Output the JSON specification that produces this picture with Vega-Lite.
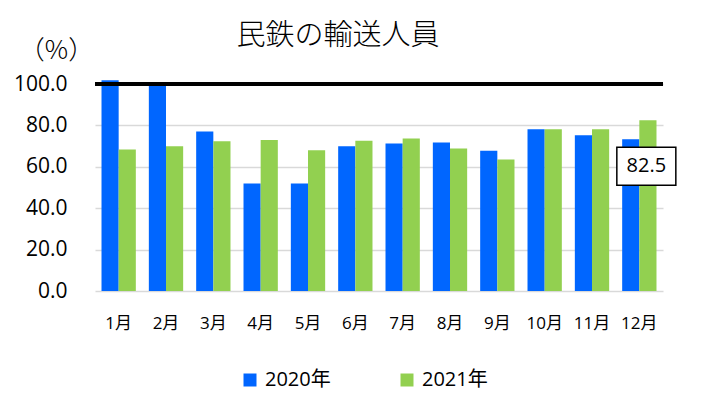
{
  "$schema": "https://vega.github.io/schema/vega-lite/v6.json",
  "width": 568,
  "height": 207,
  "autosize": "none",
  "padding": {"left": 95, "top": 84, "right": 38, "bottom": 112},
  "background": "white",
  "config": {
    "view": {"stroke": null},
    "font": "'Open Sans', 'Noto Sans CJK JP'"
  },
  "title": {
    "text": "民鉄の輸送人員",
    "font": "Noto Sans CJK JP",
    "fontSize": 29,
    "fontWeight": 300,
    "color": "#000000",
    "anchor": "middle",
    "dx": -41,
    "dy": 14,
    "offset": 0
  },
  "data": {
    "values": [
      {"month": "1月", "year": "2020年", "value": 101.8},
      {"month": "1月", "year": "2021年", "value": 68.3},
      {"month": "2月", "year": "2020年", "value": 99.8},
      {"month": "2月", "year": "2021年", "value": 69.9},
      {"month": "3月", "year": "2020年", "value": 77.0},
      {"month": "3月", "year": "2021年", "value": 72.3},
      {"month": "4月", "year": "2020年", "value": 51.9},
      {"month": "4月", "year": "2021年", "value": 72.9},
      {"month": "5月", "year": "2020年", "value": 51.9},
      {"month": "5月", "year": "2021年", "value": 68.0},
      {"month": "6月", "year": "2020年", "value": 69.9},
      {"month": "6月", "year": "2021年", "value": 72.6},
      {"month": "7月", "year": "2020年", "value": 71.2},
      {"month": "7月", "year": "2021年", "value": 73.7},
      {"month": "8月", "year": "2020年", "value": 71.7},
      {"month": "8月", "year": "2021年", "value": 68.9},
      {"month": "9月", "year": "2020年", "value": 67.8},
      {"month": "9月", "year": "2021年", "value": 63.5},
      {"month": "10月", "year": "2020年", "value": 78.2},
      {"month": "10月", "year": "2021年", "value": 78.1},
      {"month": "11月", "year": "2020年", "value": 75.2},
      {"month": "11月", "year": "2021年", "value": 78.2},
      {"month": "12月", "year": "2020年", "value": 73.3},
      {"month": "12月", "year": "2021年", "value": 82.5}
    ]
  },
  "layer": [
    {
      "mark": {"type": "bar"},
      "encoding": {
        "x": {
          "field": "month",
          "type": "nominal",
          "sort": null,
          "scale": {"paddingInner": 0.275, "paddingOuter": 0.1375},
          "axis": {
            "title": null,
            "labelAngle": 0,
            "labelFontSize": 17,
            "labelColor": "#000000",
            "labelPadding": 24,
            "ticks": false,
            "domain": false,
            "grid": false
          }
        },
        "xOffset": {"field": "year", "type": "nominal", "scale": {"paddingInner": 0, "paddingOuter": 0}},
        "y": {
          "field": "value",
          "type": "quantitative",
          "scale": {"domain": [0, 100], "nice": false, "zero": true},
          "axis": {
            "title": "（%）",
            "titleFont": "Noto Sans CJK JP",
            "titleAngle": 0,
            "titleX": -39,
            "titleY": -34,
            "titleAlign": "center",
            "titleBaseline": "middle",
            "titleFontSize": 26,
            "titleFontWeight": 300,
            "titleColor": "#000000",
            "values": [0, 20, 40, 60, 80, 100],
            "format": ".1f",
            "labelFontSize": 21,
            "labelColor": "#000000",
            "labelPadding": 28,
            "ticks": false,
            "domain": false,
            "grid": true,
            "gridColor": "#D9D9D9",
            "gridWidth": 1.5
          }
        },
        "color": {
          "field": "year",
          "type": "nominal",
          "scale": {"range": ["#0066FF", "#92D050"]},
          "legend": {
            "title": null,
            "orient": "none",
            "legendX": 145,
            "legendY": 286,
            "direction": "horizontal",
            "symbolType": "square",
            "symbolSize": 169,
            "symbolStrokeWidth": 0,
            "labelFontSize": 20,
            "labelColor": "#000000",
            "labelOffset": 5,
            "columnPadding": 66
          }
        }
      }
    },
    {
      "mark": {"type": "rule", "color": "#000000", "strokeWidth": 2.5},
      "encoding": {"y": {"datum": 100}}
    },
    {
      "transform": [{"filter": "datum.month === '12月' && datum.year === '2021年'"}],
      "mark": {
        "type": "point",
        "shape": "M-1,-0.644L1,-0.644L1,0.644L-1,0.644Z",
        "size": 3481,
        "filled": true,
        "fill": "#FFFFFF",
        "stroke": "#000000",
        "strokeWidth": 1.5,
        "opacity": 1,
        "xOffset": 7,
        "yOffset": 46
      },
      "encoding": {
        "x": {"field": "month", "type": "nominal", "sort": null},
        "y": {"field": "value", "type": "quantitative"}
      }
    },
    {
      "transform": [{"filter": "datum.month === '12月' && datum.year === '2021年'"}],
      "mark": {
        "type": "text",
        "fontSize": 20,
        "color": "#000000",
        "align": "center",
        "baseline": "middle",
        "xOffset": 7,
        "yOffset": 46
      },
      "encoding": {
        "x": {"field": "month", "type": "nominal", "sort": null},
        "y": {"field": "value", "type": "quantitative"},
        "text": {"field": "value", "type": "quantitative", "format": ".1f"}
      }
    }
  ]
}
